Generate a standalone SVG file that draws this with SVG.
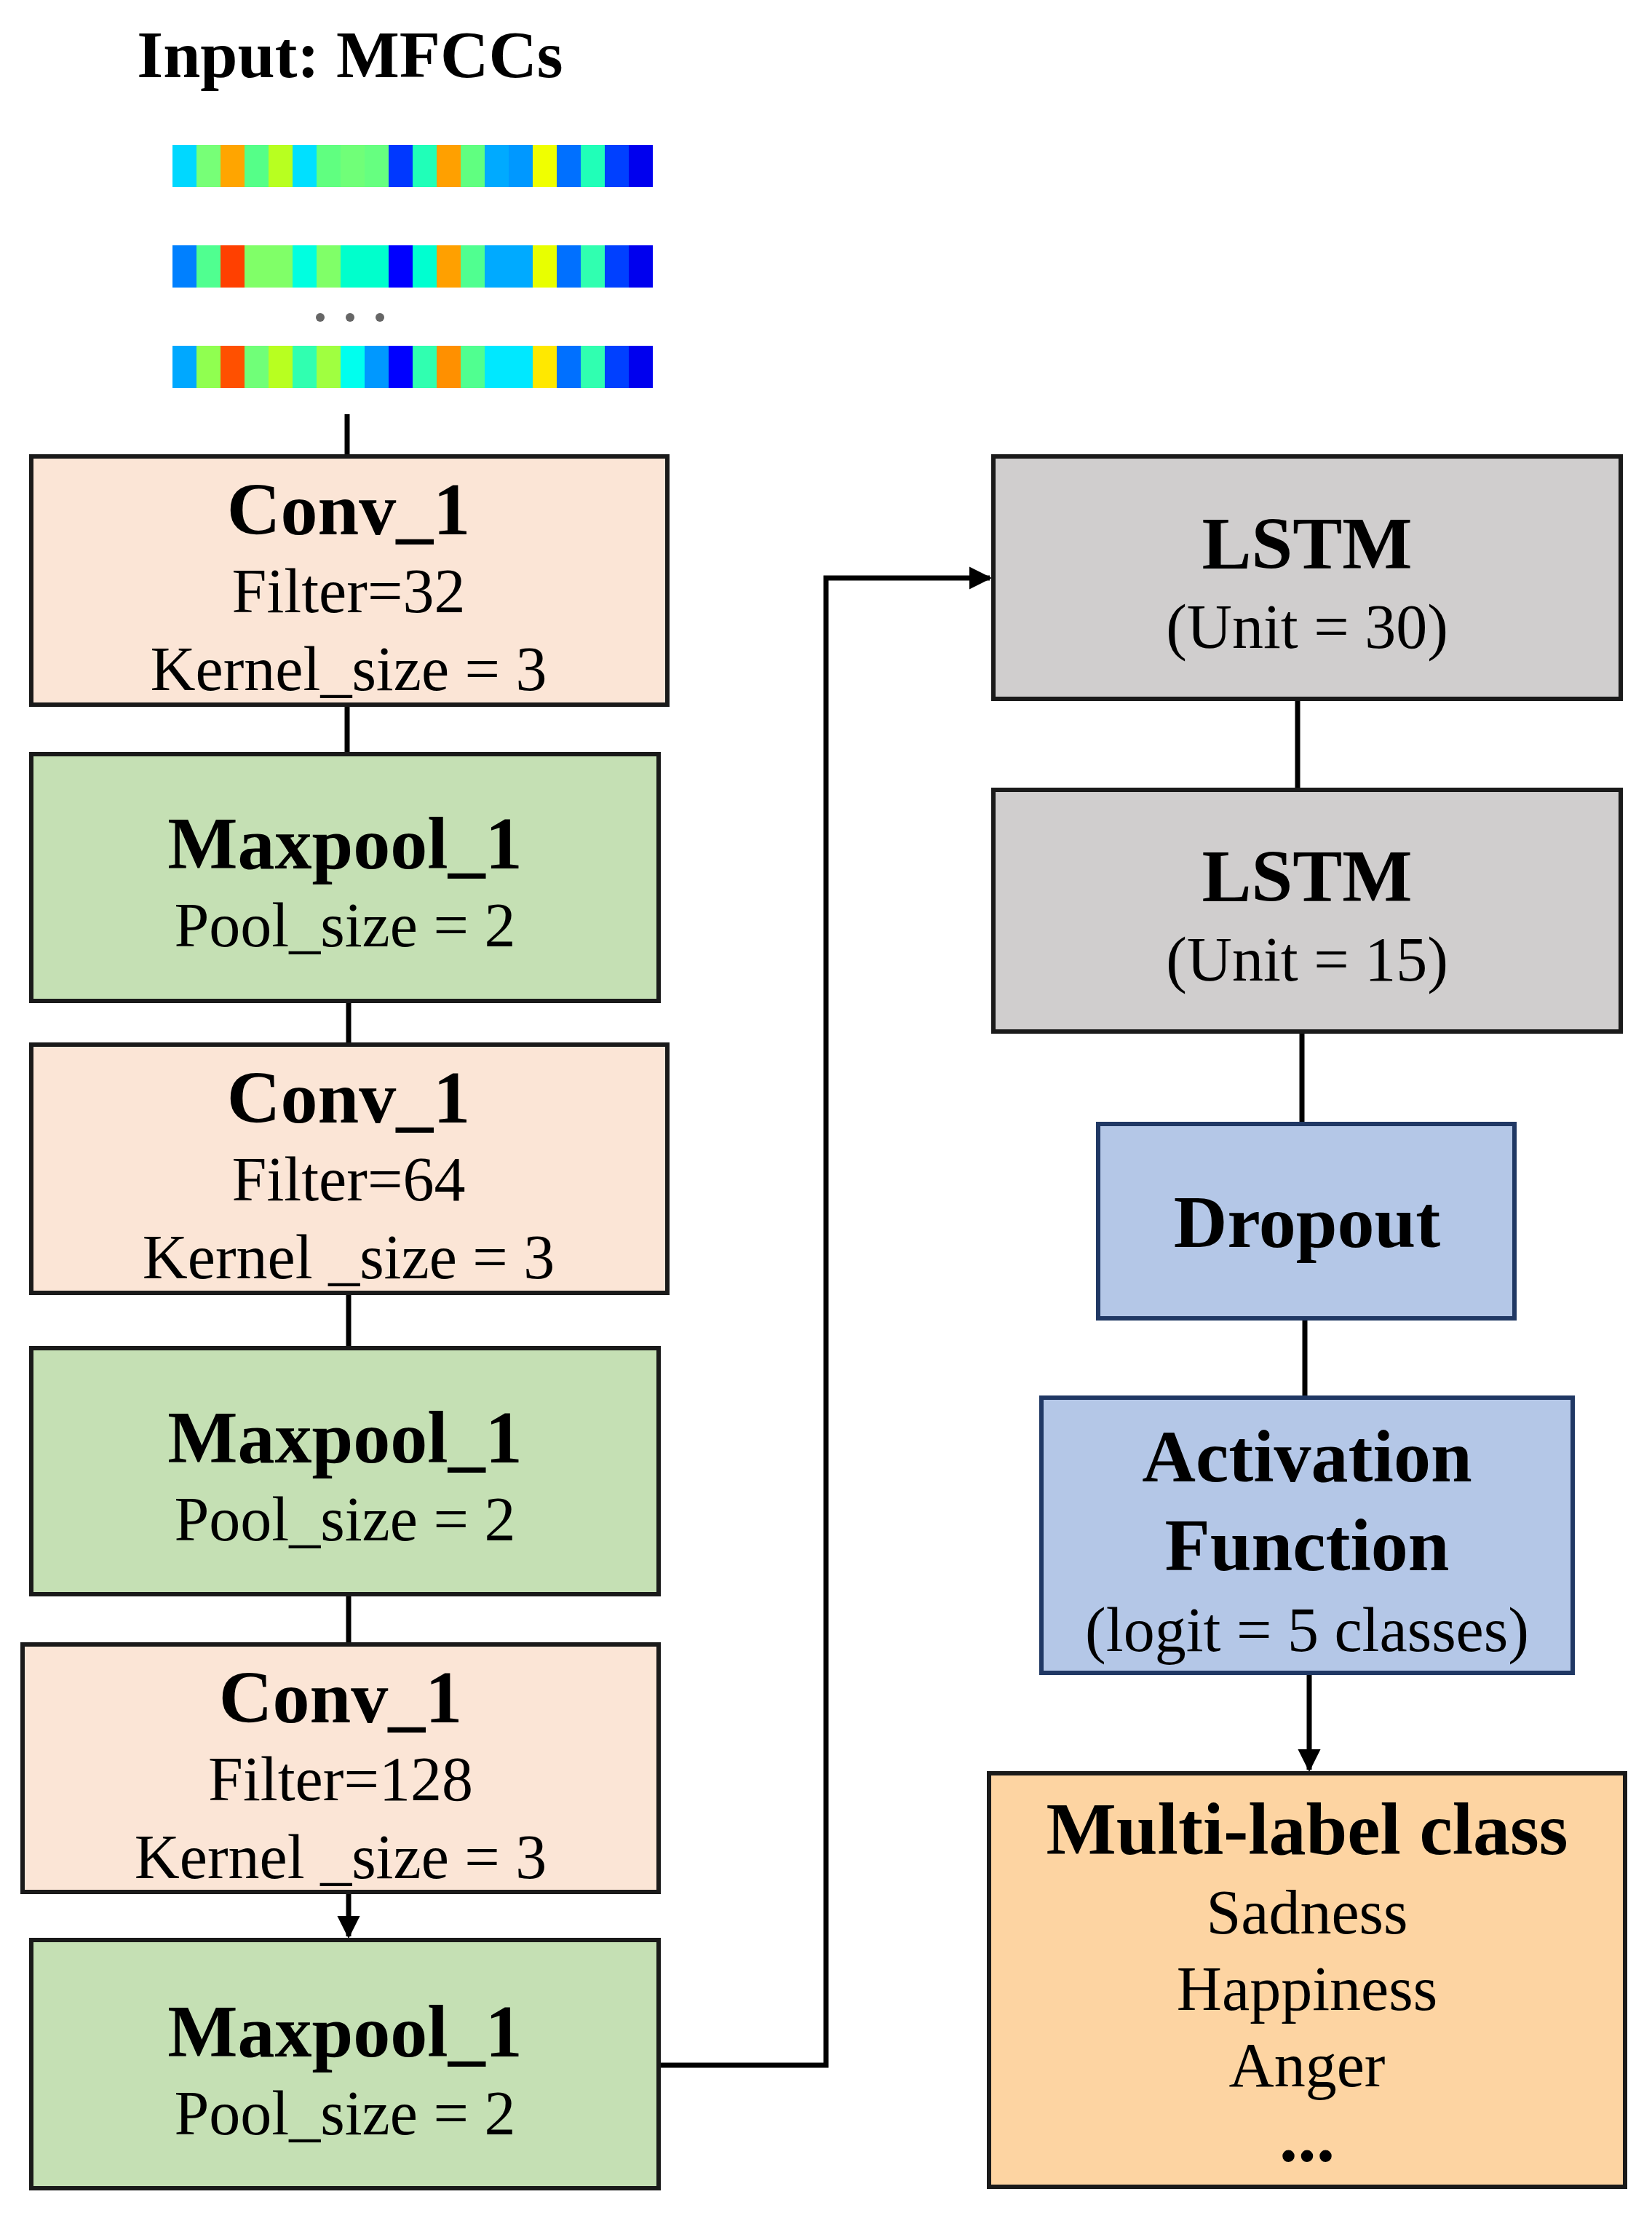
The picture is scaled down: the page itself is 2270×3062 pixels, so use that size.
<svg xmlns="http://www.w3.org/2000/svg" width="2270" height="3062" viewBox="0 0 2270 3062">
<defs>
<style>
.b{stroke:#1a1a1a;stroke-width:6}
.conv{fill:#fbe5d6}.pool{fill:#c5e0b4}.lstm{fill:#d0cece}.blue{fill:#b4c7e7;stroke:#203864}.out{fill:#fdd4a2}
text{font-family:"Liberation Serif","Times New Roman",serif;text-anchor:middle;fill:#000}
.t{font-weight:bold;font-size:102px}
.s{font-size:86px}
.c{stroke:#000;stroke-width:7;fill:none}
</style>
<marker id="ah" viewBox="0 0 10 10" refX="9" refY="5" markerWidth="4.5" markerHeight="4.5" orient="auto"><path d="M0,0L10,5L0,10z" fill="#000"/></marker>
</defs>
<rect width="2270" height="3062" fill="#fff"/>
<g id="input">
<text x="481" y="106" style="font-weight:bold;font-size:92px">Input: MFCCs</text>
<g transform="translate(237,199)">
<rect x="0" width="34" height="58" fill="#00d8ff"/><rect x="33" width="34" height="58" fill="#77ff77"/><rect x="66" width="34" height="58" fill="#ffa500"/><rect x="99" width="34" height="58" fill="#55ff88"/><rect x="132" width="34" height="58" fill="#b8ff20"/><rect x="165" width="34" height="58" fill="#00e0ff"/><rect x="198" width="34" height="58" fill="#60ff80"/><rect x="231" width="34" height="58" fill="#70ff78"/><rect x="264" width="34" height="58" fill="#66ff80"/><rect x="297" width="34" height="58" fill="#0038ff"/><rect x="330" width="34" height="58" fill="#20ffb8"/><rect x="363" width="34" height="58" fill="#ffa000"/><rect x="396" width="34" height="58" fill="#60ff80"/><rect x="429" width="34" height="58" fill="#00aaff"/><rect x="462" width="34" height="58" fill="#0098ff"/><rect x="495" width="34" height="58" fill="#f0ff00"/><rect x="528" width="34" height="58" fill="#0070ff"/><rect x="561" width="34" height="58" fill="#20ffb8"/><rect x="594" width="34" height="58" fill="#0040ff"/><rect x="627" width="33" height="58" fill="#0000ee"/>
</g>
<g transform="translate(237,337)">
<rect x="0" width="34" height="58" fill="#0080ff"/><rect x="33" width="34" height="58" fill="#50ff90"/><rect x="66" width="34" height="58" fill="#ff4000"/><rect x="99" width="34" height="58" fill="#80ff68"/><rect x="132" width="34" height="58" fill="#80ff68"/><rect x="165" width="34" height="58" fill="#00ffe0"/><rect x="198" width="34" height="58" fill="#80ff68"/><rect x="231" width="34" height="58" fill="#00ffcc"/><rect x="264" width="34" height="58" fill="#00ffcc"/><rect x="297" width="34" height="58" fill="#0000ff"/><rect x="330" width="34" height="58" fill="#00ffd0"/><rect x="363" width="34" height="58" fill="#ffa000"/><rect x="396" width="34" height="58" fill="#50ff90"/><rect x="429" width="34" height="58" fill="#00aaff"/><rect x="462" width="34" height="58" fill="#00aaff"/><rect x="495" width="34" height="58" fill="#e8ff00"/><rect x="528" width="34" height="58" fill="#0070ff"/><rect x="561" width="34" height="58" fill="#30ffb0"/><rect x="594" width="34" height="58" fill="#0040ff"/><rect x="627" width="33" height="58" fill="#0000ee"/>
</g>
<circle cx="440" cy="436" r="6" fill="#666"/><circle cx="481" cy="436" r="6" fill="#666"/><circle cx="522" cy="436" r="6" fill="#666"/>
<g transform="translate(237,475)">
<rect x="0" width="34" height="58" fill="#00a8ff"/><rect x="33" width="34" height="58" fill="#90ff50"/><rect x="66" width="34" height="58" fill="#ff5000"/><rect x="99" width="34" height="58" fill="#70ff78"/><rect x="132" width="34" height="58" fill="#b8ff20"/><rect x="165" width="34" height="58" fill="#30ffb0"/><rect x="198" width="34" height="58" fill="#a0ff40"/><rect x="231" width="34" height="58" fill="#00ffee"/><rect x="264" width="34" height="58" fill="#0098ff"/><rect x="297" width="34" height="58" fill="#0000ff"/><rect x="330" width="34" height="58" fill="#30ffb0"/><rect x="363" width="34" height="58" fill="#ff9000"/><rect x="396" width="34" height="58" fill="#50ff90"/><rect x="429" width="34" height="58" fill="#00e8ff"/><rect x="462" width="34" height="58" fill="#00e8ff"/><rect x="495" width="34" height="58" fill="#ffe800"/><rect x="528" width="34" height="58" fill="#0070ff"/><rect x="561" width="34" height="58" fill="#30ffb0"/><rect x="594" width="34" height="58" fill="#0040ff"/><rect x="627" width="33" height="58" fill="#0000ee"/>
</g>
</g>
<g id="connectors">
<path class="c" d="M477,569V627"/>
<path class="c" d="M477,968V1036"/>
<path class="c" d="M479,1375V1435"/>
<path class="c" d="M479,1776V1852"/>
<path class="c" d="M479,2190V2259"/>
<path class="c" d="M479,2599V2660" marker-end="url(#ah)"/>
<path class="c" d="M905,2837H1135V794H1360" marker-end="url(#ah)"/>
<path class="c" d="M1783,960V1085"/>
<path class="c" d="M1789,1417V1544"/>
<path class="c" d="M1793,1811V1920"/>
<path class="c" d="M1799,2298V2431" marker-end="url(#ah)"/>
</g>
<g id="conv1"><rect class="b conv" x="43" y="627" width="874" height="341"/><text class="t" x="479" y="734">Conv_1</text><text class="s" x="479" y="841">Filter=32</text><text class="s" x="479" y="948">Kernel_size = 3</text></g>
<g id="pool1"><rect class="b pool" x="43" y="1036" width="862" height="339"/><text class="t" x="474" y="1193">Maxpool_1</text><text class="s" x="474" y="1300">Pool_size = 2</text></g>
<g id="conv2"><rect class="b conv" x="43" y="1435" width="874" height="341"/><text class="t" x="479" y="1542">Conv_1</text><text class="s" x="479" y="1649">Filter=64</text><text class="s" x="479" y="1756">Kernel _size = 3</text></g>
<g id="pool2"><rect class="b pool" x="43" y="1852" width="862" height="338"/><text class="t" x="474" y="2009">Maxpool_1</text><text class="s" x="474" y="2116">Pool_size = 2</text></g>
<g id="conv3"><rect class="b conv" x="31" y="2259" width="874" height="340"/><text class="t" x="468" y="2366">Conv_1</text><text class="s" x="468" y="2473">Filter=128</text><text class="s" x="468" y="2580">Kernel _size = 3</text></g>
<g id="pool3"><rect class="b pool" x="43" y="2665" width="862" height="341"/><text class="t" x="474" y="2825">Maxpool_1</text><text class="s" x="474" y="2932">Pool_size = 2</text></g>
<g id="lstm1"><rect class="b lstm" x="1365" y="627" width="862" height="333"/><text class="t" x="1796" y="781">LSTM</text><text class="s" x="1796" y="890">(Unit = 30)</text></g>
<g id="lstm2"><rect class="b lstm" x="1365" y="1085" width="862" height="332"/><text class="t" x="1796" y="1238">LSTM</text><text class="s" x="1796" y="1347">(Unit = 15)</text></g>
<g id="dropout"><rect class="b blue" x="1509" y="1544" width="572" height="267"/><text class="t" x="1796" y="1713">Dropout</text></g>
<g id="activation"><rect class="b blue" x="1431" y="1920" width="730" height="378"/><text class="t" x="1796" y="2035">Activation</text><text class="t" x="1796" y="2157">Function</text><text class="s" x="1796" y="2268">(logit = 5 classes)</text></g>
<g id="output"><rect class="b out" x="1359" y="2436" width="874" height="568"/><text class="t" x="1796" y="2547">Multi-label class</text><text class="s" x="1796" y="2656">Sadness</text><text class="s" x="1796" y="2761">Happiness</text><text class="s" x="1796" y="2866">Anger</text><text class="t" x="1796" y="2969">...</text></g>
</svg>
